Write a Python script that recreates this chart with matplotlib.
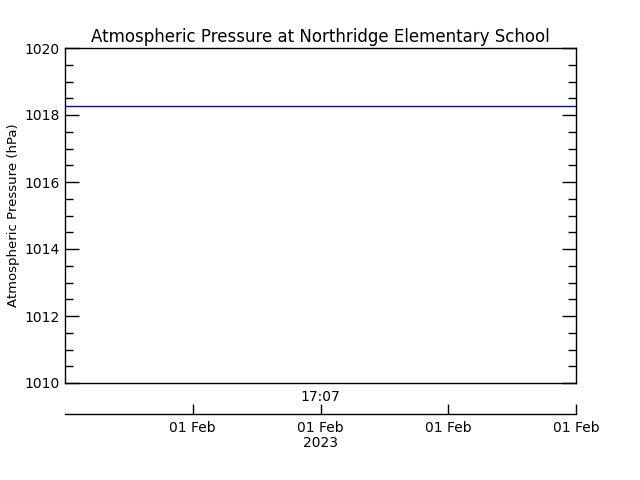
# Atmospheric pressure time series, IDL-style layout
import numpy as np
import matplotlib.pyplot as plt
from matplotlib.ticker import MultipleLocator

# minutes after 17:07 on 01 Feb 2023
minutes = [0, 1, 2, 3, 4]
pressure = [1018.26, 1018.26, 1018.26, 1018.26, 1018.26]

title = 'Atmospheric Pressure at Northridge Elementary School'
ylabel = 'Atmospheric Pressure (hPa)'
time_label = '17:07'
date_ticks = [1, 2, 3, 4]
date_labels = ['01 Feb', '01 Feb\n2023', '01 Feb', '01 Feb']

plt.rcParams['font.family'] = 'DejaVu Sans'
fig = plt.figure(figsize=(6.4, 4.8), dpi=100)

ax = fig.add_axes([65/640, 1 - 383/480, 511/640, 335/480])
ax.plot(minutes, pressure, color='#0000ff', lw=1)
ax.set_xlim(minutes[0], minutes[-1])
ax.set_ylim(1010, 1020)
ax.yaxis.set_major_locator(MultipleLocator(2))
ax.yaxis.set_minor_locator(MultipleLocator(0.5))
ax.tick_params(axis='y', which='both', direction='in', left=True, right=True,
               labelsize=10, width=1, pad=4)
ax.tick_params(axis='y', which='major', length=10)
ax.tick_params(axis='y', which='minor', length=6)
ax.set_xticks([])
ax.set_title(title, fontsize=12, pad=4)
ax.set_ylabel(ylabel, fontsize=9.5, labelpad=3)
for s in ax.spines.values():
    s.set_linewidth(1)
# time-of-day label above the date axis
fig.text(320/640, 1 - 390/480, time_label, ha='center', va='top', fontsize=10)

# separate date axis below
ax2 = fig.add_axes([65/640, 1 - 414/480, 511/640, 0.001])
ax2.set_xlim(minutes[0], minutes[-1])
ax2.set_ylim(0, 1)
for side in ['top', 'left', 'right']:
    ax2.spines[side].set_visible(False)
ax2.spines['bottom'].set_linewidth(1)
ax2.set_yticks([])
ax2.set_xticks(date_ticks)
ax2.set_xticklabels(date_labels, fontsize=10, linespacing=1.1)
ax2.tick_params(axis='x', direction='in', length=7, width=1, pad=5)

fig.savefig('out.png', dpi=100)
